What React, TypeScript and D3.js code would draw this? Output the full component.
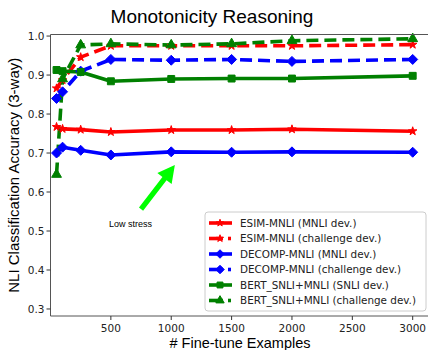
import * as d3 from 'd3';

// x positions (number of fine-tune examples)
const examples = [50, 100, 250, 500, 1000, 1500, 2000, 3000];

// accuracy per series
const esimDev = [0.767, 0.762, 0.76, 0.754, 0.759, 0.759, 0.761, 0.756];
const esimChallenge = [0.866, 0.887, 0.946, 0.975, 0.975, 0.975, 0.975, 0.978];
const decompDev = [0.7, 0.715, 0.707, 0.695, 0.703, 0.702, 0.703, 0.702];
const decompChallenge = [0.84, 0.857, 0.91, 0.94, 0.938, 0.94, 0.935, 0.94];
const bertDev = [0.913, 0.91, 0.908, 0.884, 0.89, 0.891, 0.891, 0.898];
const bertChallenge = [0.645, 0.89, 0.977, 0.98, 0.977, 0.98, 0.988, 0.993];

const xTicks = [500, 1000, 1500, 2000, 2500, 3000];
const yTicks = [0.3, 0.4, 0.5, 0.6, 0.7, 0.8, 0.9, 1.0];

// annotation arrow: tail -> tip in data coords
const arrowTail = [750, 0.556];
const arrowTip = [1030, 0.669];

type Marker = 'star' | 'diamond' | 'square' | 'triangle';

interface Series {
  label: string;
  values: number[];
  color: string;
  dashed: boolean;
  marker: Marker;
}

const series: Series[] = [
  { label: 'ESIM-MNLI (MNLI dev.)', values: esimDev, color: '#ff0000', dashed: false, marker: 'star' },
  { label: 'ESIM-MNLI (challenge dev.)', values: esimChallenge, color: '#ff0000', dashed: true, marker: 'star' },
  { label: 'DECOMP-MNLI (MNLI dev.)', values: decompDev, color: '#0000ff', dashed: false, marker: 'diamond' },
  { label: 'DECOMP-MNLI (challenge dev.)', values: decompChallenge, color: '#0000ff', dashed: true, marker: 'diamond' },
  { label: 'BERT_SNLI+MNLI (SNLI dev.)', values: bertDev, color: '#008000', dashed: false, marker: 'square' },
  { label: 'BERT_SNLI+MNLI (challenge dev.)', values: bertChallenge, color: '#008000', dashed: true, marker: 'triangle' },
];

const W = 428;
const H = 350;
const margin = { left: 50.5, top: 34.5, right: 429, bottom: 316 };

const sans = 'Liberation Sans, Arial, sans-serif';
const dejavu = 'DejaVu Sans, sans-serif';

function markerPath(m: Marker, k = 1): string {
  if (m === 'star') return d3.symbol(d3.symbolStar, 22 * k * k)() || '';
  if (m === 'square') return d3.symbol(d3.symbolSquare, 48 * k * k)() || '';
  if (m === 'triangle') return d3.symbol(d3.symbolTriangle, 42 * k * k)() || '';
  // matplotlib 'D' = square rotated 45deg
  const r = 5 * k;
  return `M0,${-r}L${r},0L0,${r}L${-r},0Z`;
}

export default function App() {
  const x = d3.scaleLinear().domain([0, 3135]).range([margin.left, margin.right]);
  const y = d3.scaleLinear().domain([0.282, 1.004]).range([margin.bottom, margin.top]);

  const line = d3
    .line<number>()
    .x((_, i) => x(examples[i]))
    .y((d) => y(d));

  // arrow geometry
  const [tx0, ty0] = [x(arrowTail[0]), y(arrowTail[1])];
  const [tx1, ty1] = [x(arrowTip[0]), y(arrowTip[1])];
  const ang = Math.atan2(ty1 - ty0, tx1 - tx0);
  const len = Math.hypot(tx1 - tx0, ty1 - ty0);
  const headLen = 17;
  const headW = 9;
  const shaftW = 2.6;
  const arrowPts = [
    [0, -shaftW],
    [len - headLen, -shaftW],
    [len - headLen, -headW],
    [len, 0],
    [len - headLen, headW],
    [len - headLen, shaftW],
    [0, shaftW],
  ];

  const legend = { x: 205, y: 212, w: 221, h: 99, row: 15.5 };

  return (
    <div style={{ position: 'absolute', left: 0, top: 0 }}>
      <svg width={W} height={H} style={{ display: 'block', background: '#fff' }}>
        <rect width={W} height={H} fill="#fff" />

        {/* title */}
        <text x={212} y={23} textAnchor="middle" fontFamily={sans} fontSize={19} fill="#000">
          Monotonicity Reasoning
        </text>

        <defs>
          <clipPath id="plotClip">
            <rect x={margin.left} y={margin.top - 8} width={margin.right - margin.left + 10} height={margin.bottom - margin.top + 8} />
          </clipPath>
        </defs>

        {/* series */}
        <g clipPath="url(#plotClip)">
          {series.map((s) => (
            <path
              key={s.label + '-line'}
              d={line(s.values) || ''}
              fill="none"
              stroke={s.color}
              strokeWidth={3.6}
              strokeDasharray={s.dashed ? '12,6' : undefined}
              strokeLinejoin="round"
            />
          ))}
          {series.map((s) =>
            s.values.map((v, i) => (
              <path
                key={s.label + i}
                d={markerPath(s.marker)}
                transform={`translate(${x(examples[i])},${y(v)})`}
                fill={s.color}
                stroke={s.color}
                strokeWidth={1}
              />
            ))
          )}
        </g>

        {/* spines */}
        <line x1={margin.left} x2={margin.left} y1={margin.top} y2={margin.bottom} stroke="#555" strokeWidth={1} />
        <line x1={margin.left} x2={margin.right} y1={margin.bottom} y2={margin.bottom} stroke="#555" strokeWidth={1} />
        <line x1={margin.left} x2={margin.right} y1={margin.top} y2={margin.top} stroke="#555" strokeWidth={1} />

        {/* y ticks */}
        {yTicks.map((t) => (
          <g key={'y' + t}>
            <line x1={margin.left - 4} x2={margin.left} y1={y(t)} y2={y(t)} stroke="#333" />
            <text x={margin.left - 6} y={y(t)} dy="0.35em" textAnchor="end" fontFamily={dejavu} fontSize={10.5} fill="#222">
              {d3.format('.1f')(t)}
            </text>
          </g>
        ))}

        {/* x ticks */}
        {xTicks.map((t) => (
          <g key={'x' + t}>
            <line x1={x(t)} x2={x(t)} y1={margin.bottom} y2={margin.bottom + 4} stroke="#333" />
            <text x={x(t)} y={331.5} textAnchor="middle" fontFamily={dejavu} fontSize={10.5} fill="#222">
              {t}
            </text>
          </g>
        ))}

        {/* axis labels */}
        <text x={240} y={348} textAnchor="middle" fontFamily={sans} fontSize={14.5} fill="#000">
          # Fine-tune Examples
        </text>
        <text
          transform={`translate(19,${(margin.top + margin.bottom) / 2}) rotate(-90)`}
          textAnchor="middle"
          fontFamily={sans}
          fontSize={15}
          fill="#000"
        >
          NLI Classification Accuracy (3-way)
        </text>

        {/* annotation */}
        <polygon
          points={arrowPts.map((p) => p.join(',')).join(' ')}
          transform={`translate(${tx0},${ty0}) rotate(${(ang * 180) / Math.PI})`}
          fill="#00ff00"
        />
        <text x={109} y={227} fontFamily={sans} fontSize={9} fill="#000">
          Low stress
        </text>

        {/* legend */}
        <rect
          x={legend.x}
          y={legend.y}
          width={legend.w}
          height={legend.h}
          rx={3}
          fill="#fff"
          fillOpacity={0.85}
          stroke="#ccc"
        />
        {series.map((s, i) => {
          const cy = legend.y + 11 + i * legend.row;
          return (
            <g key={s.label + '-leg'}>
              {s.dashed ? (
                <>
                  <line x1={209} x2={223} y1={cy} y2={cy} stroke={s.color} strokeWidth={3.6} />
                  <line x1={228} x2={231} y1={cy} y2={cy} stroke={s.color} strokeWidth={3.6} />
                </>
              ) : (
                <line x1={209} x2={232} y1={cy} y2={cy} stroke={s.color} strokeWidth={3.6} />
              )}
              <path d={markerPath(s.marker, 0.85)} transform={`translate(220,${cy})`} fill={s.color} stroke={s.color} />
              <text x={240} y={cy} dy="0.35em" fontFamily={dejavu} fontSize={10.4} fill="#222">
                {s.label}
              </text>
            </g>
          );
        })}
      </svg>
    </div>
  );
}
